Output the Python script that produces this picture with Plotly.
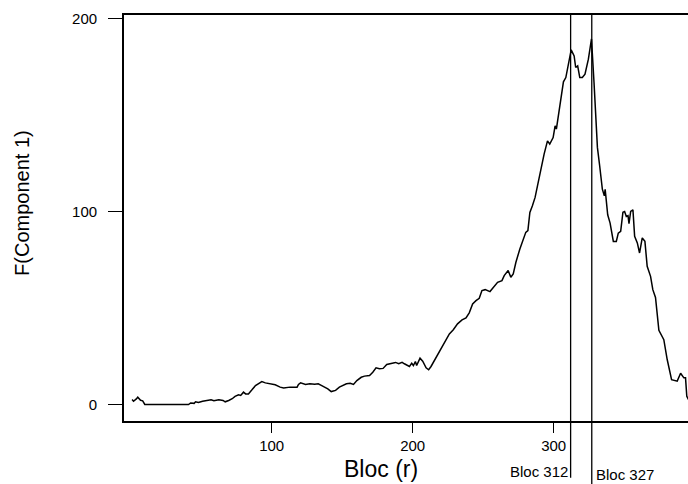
import plotly.graph_objects as go

# Bloc index (r) and the first-component statistic F(Component 1)
bloc = [1, 2, 4, 5, 7, 8.5, 10, 41, 42.5, 45, 46, 48, 51, 55, 57, 59, 62.5, 65.5, 67, 69.5,
        72, 74, 76.5, 78, 80, 81.5, 83.5, 86, 88.5, 91, 93, 95.5, 99, 102.5, 106, 108.5,
        113, 118, 119, 120.5, 124, 127, 130.5, 133, 135.5, 139.8, 142.2, 145.3, 148, 150.5,
        153, 155.7, 158, 160.4, 163.5, 165.8, 169.4, 171.7, 174, 176.4, 179, 181.6, 184.7,
        187.8, 190.1, 192.5, 194.1, 196.5, 197.7, 199.3, 200.5, 201.9, 202.8, 205.2, 207.1,
        209.5, 211.3, 213, 215.4, 217.7, 220.1, 223.1, 226, 228.8, 231.8, 235, 237.8, 240.1,
        242.5, 244.9, 247.2, 249.1, 251.4, 254.8, 257.1, 260.2, 263.3, 264.9, 267.7, 269.6,
        271.3, 273.2, 276, 277.9, 280.2, 281.7, 283.1, 284.9, 286.8, 288.5, 290.9, 293.2,
        295.6, 297.2, 299.6, 301, 301.9, 304.3, 306.2, 306.9, 308.6, 312.4, 314.5, 315.6,
        317, 318.5, 320.3, 322.2, 324.6, 326.8, 328.6, 331, 332.6, 334.5, 335.9, 336.5,
        338.3, 340, 342.3, 344.4, 345.8, 347.5, 349.1, 350.3, 351.5, 352.7, 353.4, 354.6,
        356.2, 357.4, 359.3, 360.9, 362.8, 364.7, 366.3, 368.7, 370.3, 372.2, 374.6, 378.1,
        380.5, 383.6, 387.6, 390, 392.3, 393.5, 394.4, 396]
f_comp1 = [2.6, 1.7, 2.9, 3.8, 2.2, 1.9, 0, 0, 0.8, 0.6, 1.4, 1.0, 1.7, 2.1, 2.4, 1.9, 2.4, 2.1,
           1.4, 2.1, 3.0, 4.2, 5.0, 4.7, 6.4, 5.5, 5.5, 7.6, 9.8, 11.0, 11.9, 11.2, 10.7, 10.2,
           9.0, 8.5, 9.0, 9.0, 10.4, 11.2, 10.4, 10.7, 10.5, 10.7, 9.8, 8.1, 6.7, 7.3, 9.0,
           9.8, 10.7, 11.0, 10.4, 12.4, 14.1, 14.7, 15.0, 16.7, 19.0, 18.5, 18.7, 20.7, 21.4,
           21.8, 21.1, 21.8, 21.1, 20.2, 19.7, 21.4, 20.2, 22.3, 20.2, 24.0, 22.4, 19.0, 18.0,
           19.7, 22.8, 25.4, 28.8, 33.1, 36.6, 38.7, 41.8, 43.8, 44.9, 47.5, 52.1, 53.8, 55.0,
           59.0, 59.5, 58.5, 60.7, 63.3, 64.2, 66.8, 69.4, 65.9, 67.6, 73.7, 80.6, 84.9, 89.2,
           90.1, 99.5, 103.0, 107.3, 113.3, 122.0, 129.7, 136.6, 134.9, 138.3, 144.4, 142.7,
           154.7, 161.6, 167.2, 169.4, 183.7, 180.6, 174.6, 175.4, 169.4, 169.4, 171.1, 178.9,
           189.4, 166.8, 133.2, 123.7, 111.6, 108.2, 111.5, 98.3, 94.0, 84.5, 84.5, 88.8, 89.7,
           99.6, 100.0, 97.4, 97.8, 93.7, 100.0, 100.9, 87.1, 83.7, 78.5, 86.3, 84.5, 71.6,
           66.4, 59.5, 55.5, 38.4, 33.6, 23.3, 12.9, 12.1, 16.2, 13.8, 13.8, 4.3, 2.0]

# Marked blocs and axis ticks
marked_blocs = [312, 327]
marked_labels = ["Bloc 312", "Bloc 327"]
x_ticks = [100, 200, 300]
y_ticks = [0, 100, 200]

FONT = "Liberation Sans, Arial, sans-serif"

fig = go.Figure()
fig.add_trace(go.Scatter(x=bloc, y=f_comp1, mode="lines",
                         line=dict(color="black", width=1.5), hoverinfo="skip"))

# Vertical markers running from the top of the frame down past the x axis
line_bottoms = [-0.14, -0.2]
for b, yb in zip(marked_blocs, line_bottoms):
    fig.add_shape(type="line", xref="x", yref="paper", x0=b, x1=b, y0=yb, y1=1,
                  line=dict(color="black", width=1.3))

fig.add_annotation(x=marked_blocs[0], y=-0.14, xref="x", yref="paper",
                   text=marked_labels[0], showarrow=False, xanchor="right", yanchor="bottom",
                   xshift=-1, yshift=-4, font=dict(family=FONT, size=15, color="black"))
fig.add_annotation(x=marked_blocs[1], y=-0.148, xref="x", yref="paper",
                   text=marked_labels[1], showarrow=False, xanchor="left", yanchor="bottom",
                   xshift=2, yshift=-4, font=dict(family=FONT, size=15, color="black"))

# Axis titles
fig.add_annotation(x=0.456, y=-0.118, xref="paper", yref="paper", text="Bloc (r)",
                   showarrow=False, xanchor="center", yanchor="middle",
                   font=dict(family=FONT, size=23, color="black"))
fig.add_annotation(x=-0.181, y=0.537, xref="paper", yref="paper", text="F(Component 1)",
                   showarrow=False, textangle=-90, xanchor="center", yanchor="middle",
                   font=dict(family=FONT, size=20, color="black"))

fig.update_layout(
    width=688, height=484,
    margin=dict(l=124, r=0, t=15, b=63),
    paper_bgcolor="white", plot_bgcolor="white",
    showlegend=False,
    font=dict(family=FONT, size=15, color="black"),
)
fig.update_xaxes(range=[-4.75, 395.25], tickvals=x_ticks, ticks="outside", ticklen=10,
                 tickwidth=1.3, tickcolor="black", showline=True, mirror=True,
                 linecolor="black", linewidth=1.8, showgrid=False, zeroline=False,
                 tickfont=dict(family=FONT, size=15))
fig.update_yaxes(range=[-8.55, 201.8], tickvals=y_ticks, ticks="outside", ticklen=14,
                 tickwidth=1.3, tickcolor="black", showline=True, mirror=False,
                 linecolor="black", linewidth=1.8, showgrid=False, zeroline=False,
                 tickfont=dict(family=FONT, size=15), ticklabelstandoff=8)

fig.write_html("out.html")
